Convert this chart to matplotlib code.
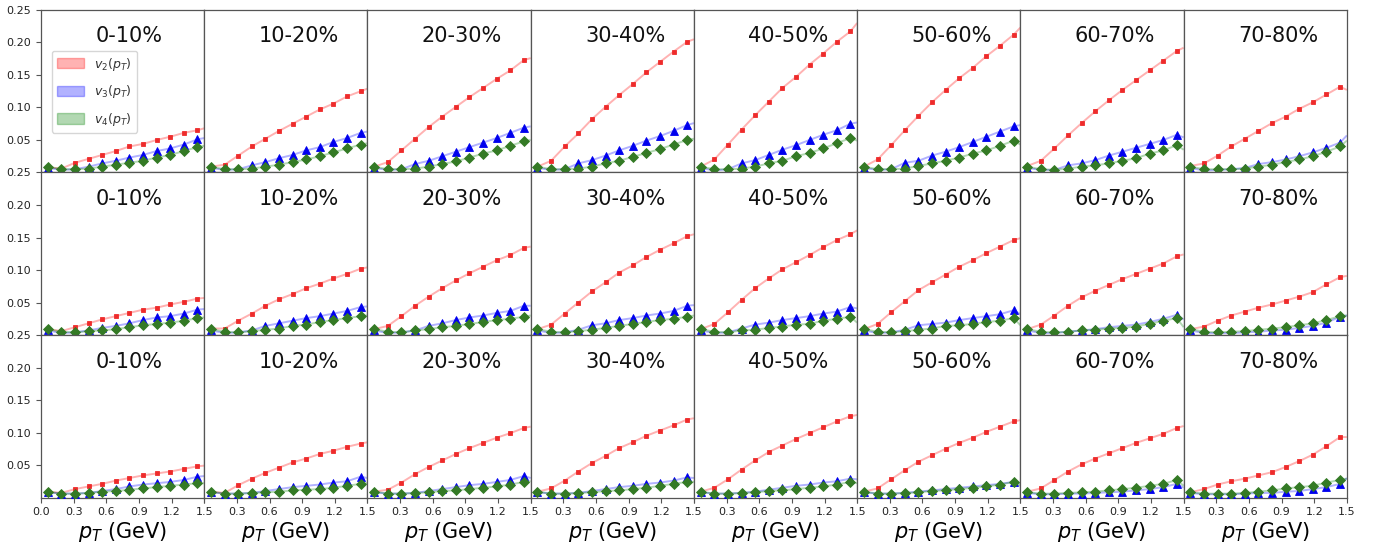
import matplotlib
matplotlib.use("Agg")
import matplotlib.pyplot as plt
import matplotlib.patches as mpatches

# transverse-momentum bin centres (GeV) and the upper edge of the range
pt_bins = [0.0625, 0.1875, 0.3125, 0.4375, 0.5625, 0.6875,
           0.8125, 0.9375, 1.0625, 1.1875, 1.3125, 1.4375]
pt_edge = 1.5

centralities = ["0-10%", "10-20%", "20-30%", "30-40%",
                "40-50%", "50-60%", "60-70%", "70-80%"]

x_ticks = [0.0, 0.3, 0.6, 0.9, 1.2, 1.5]
y_ticks = [0.05, 0.10, 0.15, 0.20, 0.25]

# ---------------- row 1 ----------------
v2_r1 = [
    [0.008, 0.006, 0.015, 0.021, 0.027, 0.033, 0.040, 0.044, 0.050, 0.055, 0.061, 0.065],
    [0.009, 0.012, 0.026, 0.040, 0.052, 0.064, 0.075, 0.086, 0.097, 0.106, 0.117, 0.125],
    [0.009, 0.016, 0.034, 0.052, 0.070, 0.086, 0.101, 0.116, 0.130, 0.144, 0.157, 0.173],
    [0.009, 0.018, 0.040, 0.060, 0.082, 0.101, 0.119, 0.136, 0.154, 0.170, 0.186, 0.201],
    [0.009, 0.020, 0.043, 0.066, 0.088, 0.109, 0.130, 0.147, 0.166, 0.183, 0.201, 0.217],
    [0.009, 0.020, 0.042, 0.065, 0.087, 0.108, 0.127, 0.145, 0.161, 0.179, 0.195, 0.212],
    [0.010, 0.018, 0.037, 0.057, 0.076, 0.094, 0.111, 0.127, 0.142, 0.157, 0.172, 0.187],
    [0.010, 0.014, 0.026, 0.040, 0.052, 0.064, 0.076, 0.086, 0.098, 0.108, 0.120, 0.132],
]
v3_r1 = [
    [0.007, 0.004, 0.005, 0.009, 0.014, 0.018, 0.023, 0.027, 0.033, 0.037, 0.043, 0.051],
    [0.007, 0.004, 0.005, 0.011, 0.016, 0.022, 0.027, 0.034, 0.039, 0.047, 0.053, 0.061],
    [0.007, 0.004, 0.005, 0.013, 0.018, 0.025, 0.032, 0.039, 0.046, 0.053, 0.061, 0.069],
    [0.007, 0.004, 0.005, 0.014, 0.019, 0.026, 0.034, 0.041, 0.049, 0.056, 0.064, 0.073],
    [0.007, 0.003, 0.005, 0.014, 0.019, 0.027, 0.035, 0.042, 0.050, 0.058, 0.065, 0.075],
    [0.007, 0.004, 0.005, 0.015, 0.018, 0.026, 0.032, 0.039, 0.047, 0.055, 0.063, 0.071],
    [0.007, 0.004, 0.004, 0.011, 0.014, 0.019, 0.026, 0.032, 0.038, 0.044, 0.050, 0.058],
    [0.007, 0.003, 0.004, 0.005, 0.007, 0.013, 0.016, 0.020, 0.025, 0.031, 0.038, 0.046],
]
v4_r1 = [
    [0.009, 0.005, 0.005, 0.006, 0.009, 0.012, 0.015, 0.018, 0.023, 0.027, 0.033, 0.039],
    [0.009, 0.005, 0.005, 0.006, 0.009, 0.012, 0.016, 0.020, 0.025, 0.031, 0.037, 0.043],
    [0.009, 0.005, 0.005, 0.006, 0.009, 0.013, 0.017, 0.023, 0.029, 0.034, 0.041, 0.048],
    [0.009, 0.005, 0.005, 0.006, 0.009, 0.014, 0.018, 0.024, 0.030, 0.036, 0.043, 0.050],
    [0.009, 0.005, 0.005, 0.006, 0.009, 0.014, 0.018, 0.025, 0.030, 0.037, 0.045, 0.053],
    [0.009, 0.005, 0.005, 0.006, 0.010, 0.014, 0.018, 0.023, 0.029, 0.034, 0.041, 0.049],
    [0.009, 0.005, 0.004, 0.006, 0.009, 0.011, 0.014, 0.018, 0.022, 0.029, 0.034, 0.042],
    [0.009, 0.005, 0.005, 0.005, 0.006, 0.009, 0.012, 0.016, 0.020, 0.025, 0.032, 0.040],
]
v2_end_r1 = [0.068, 0.129, 0.176, 0.205, 0.230, 0.223, 0.192, 0.127]
v3_end_r1 = [0.053, 0.063, 0.071, 0.076, 0.077, 0.073, 0.054, 0.057]
v4_end_r1 = [0.041, 0.045, 0.050, 0.052, 0.049, 0.043, 0.035, 0.049]

# ---------------- row 2 ----------------
v2_r2 = [
    [0.009, 0.006, 0.012, 0.018, 0.024, 0.029, 0.034, 0.039, 0.042, 0.047, 0.051, 0.056],
    [0.010, 0.010, 0.022, 0.033, 0.045, 0.055, 0.063, 0.072, 0.079, 0.087, 0.094, 0.102],
    [0.009, 0.014, 0.029, 0.045, 0.059, 0.072, 0.084, 0.095, 0.105, 0.115, 0.123, 0.134],
    [0.009, 0.016, 0.033, 0.050, 0.067, 0.081, 0.096, 0.107, 0.120, 0.131, 0.141, 0.152],
    [0.009, 0.017, 0.035, 0.054, 0.072, 0.087, 0.101, 0.112, 0.123, 0.135, 0.146, 0.155],
    [0.009, 0.017, 0.035, 0.052, 0.069, 0.081, 0.093, 0.105, 0.115, 0.126, 0.136, 0.146],
    [0.009, 0.016, 0.030, 0.045, 0.058, 0.068, 0.077, 0.086, 0.094, 0.102, 0.110, 0.121],
    [0.009, 0.013, 0.022, 0.030, 0.036, 0.042, 0.047, 0.053, 0.059, 0.066, 0.078, 0.089],
]
v3_r2 = [
    [0.007, 0.003, 0.004, 0.007, 0.011, 0.014, 0.018, 0.023, 0.027, 0.029, 0.033, 0.039],
    [0.007, 0.003, 0.004, 0.007, 0.014, 0.018, 0.022, 0.026, 0.029, 0.033, 0.037, 0.043],
    [0.007, 0.003, 0.004, 0.007, 0.014, 0.018, 0.023, 0.027, 0.030, 0.034, 0.037, 0.045],
    [0.007, 0.003, 0.004, 0.008, 0.015, 0.018, 0.023, 0.026, 0.030, 0.033, 0.037, 0.045],
    [0.007, 0.003, 0.004, 0.010, 0.016, 0.019, 0.023, 0.026, 0.029, 0.033, 0.036, 0.043],
    [0.007, 0.003, 0.004, 0.008, 0.015, 0.017, 0.019, 0.023, 0.026, 0.029, 0.032, 0.038],
    [0.007, 0.003, 0.003, 0.005, 0.007, 0.009, 0.012, 0.014, 0.016, 0.020, 0.025, 0.031],
    [0.007, 0.003, 0.003, 0.003, 0.004, 0.005, 0.007, 0.008, 0.011, 0.014, 0.019, 0.028],
]
v4_r2 = [
    [0.009, 0.005, 0.004, 0.006, 0.007, 0.009, 0.012, 0.015, 0.017, 0.019, 0.022, 0.026],
    [0.009, 0.005, 0.004, 0.006, 0.008, 0.010, 0.014, 0.016, 0.020, 0.023, 0.026, 0.029],
    [0.009, 0.005, 0.004, 0.007, 0.009, 0.012, 0.014, 0.017, 0.020, 0.023, 0.025, 0.028],
    [0.009, 0.005, 0.004, 0.006, 0.008, 0.011, 0.014, 0.017, 0.020, 0.023, 0.025, 0.028],
    [0.009, 0.005, 0.004, 0.007, 0.008, 0.011, 0.013, 0.016, 0.017, 0.022, 0.025, 0.028],
    [0.009, 0.005, 0.004, 0.006, 0.008, 0.010, 0.014, 0.015, 0.017, 0.020, 0.022, 0.026],
    [0.009, 0.005, 0.004, 0.005, 0.007, 0.008, 0.010, 0.011, 0.013, 0.017, 0.022, 0.026],
    [0.009, 0.005, 0.004, 0.005, 0.006, 0.008, 0.010, 0.012, 0.015, 0.018, 0.023, 0.029],
]
v2_end_r2 = [0.057, 0.104, 0.136, 0.155, 0.161, 0.149, 0.124, 0.091]
v3_end_r2 = [0.040, 0.044, 0.045, 0.046, 0.041, 0.032, 0.024, 0.030]
v4_end_r2 = [0.027, 0.030, 0.030, 0.030, 0.019, 0.015, 0.012, 0.030]

# ---------------- row 3 ----------------
v2_r3 = [
    [0.009, 0.007, 0.013, 0.017, 0.021, 0.026, 0.030, 0.034, 0.037, 0.040, 0.044, 0.048],
    [0.009, 0.007, 0.019, 0.029, 0.038, 0.046, 0.054, 0.060, 0.067, 0.072, 0.078, 0.083],
    [0.009, 0.012, 0.023, 0.036, 0.047, 0.057, 0.067, 0.076, 0.084, 0.092, 0.099, 0.107],
    [0.009, 0.014, 0.026, 0.040, 0.053, 0.064, 0.076, 0.085, 0.095, 0.103, 0.111, 0.120],
    [0.009, 0.015, 0.028, 0.043, 0.057, 0.070, 0.080, 0.090, 0.099, 0.108, 0.117, 0.125],
    [0.009, 0.014, 0.028, 0.042, 0.055, 0.065, 0.075, 0.084, 0.092, 0.101, 0.109, 0.117],
    [0.009, 0.014, 0.027, 0.040, 0.051, 0.060, 0.068, 0.076, 0.084, 0.091, 0.098, 0.107],
    [0.008, 0.013, 0.020, 0.025, 0.029, 0.034, 0.039, 0.047, 0.056, 0.066, 0.079, 0.093],
]
v3_r3 = [
    [0.008, 0.006, 0.006, 0.007, 0.010, 0.013, 0.017, 0.020, 0.022, 0.024, 0.027, 0.032],
    [0.008, 0.006, 0.006, 0.007, 0.010, 0.013, 0.016, 0.018, 0.020, 0.023, 0.025, 0.032],
    [0.008, 0.006, 0.006, 0.007, 0.010, 0.013, 0.016, 0.019, 0.021, 0.024, 0.027, 0.033],
    [0.008, 0.006, 0.006, 0.007, 0.010, 0.013, 0.016, 0.018, 0.021, 0.023, 0.026, 0.031],
    [0.008, 0.006, 0.006, 0.007, 0.009, 0.012, 0.015, 0.018, 0.020, 0.023, 0.025, 0.029],
    [0.008, 0.006, 0.006, 0.007, 0.009, 0.011, 0.013, 0.015, 0.017, 0.019, 0.021, 0.024],
    [0.007, 0.005, 0.005, 0.006, 0.006, 0.007, 0.008, 0.009, 0.011, 0.013, 0.016, 0.021],
    [0.007, 0.005, 0.005, 0.005, 0.006, 0.007, 0.007, 0.009, 0.010, 0.013, 0.016, 0.021],
]
v4_r3 = [
    [0.009, 0.006, 0.006, 0.007, 0.009, 0.010, 0.012, 0.014, 0.016, 0.018, 0.020, 0.022],
    [0.009, 0.006, 0.006, 0.007, 0.008, 0.009, 0.011, 0.012, 0.013, 0.015, 0.018, 0.021],
    [0.009, 0.006, 0.006, 0.007, 0.008, 0.010, 0.011, 0.013, 0.015, 0.017, 0.020, 0.024],
    [0.009, 0.006, 0.006, 0.007, 0.008, 0.010, 0.011, 0.013, 0.015, 0.018, 0.021, 0.024],
    [0.009, 0.006, 0.006, 0.007, 0.008, 0.010, 0.011, 0.013, 0.015, 0.017, 0.020, 0.024],
    [0.009, 0.006, 0.006, 0.007, 0.008, 0.010, 0.011, 0.013, 0.015, 0.017, 0.020, 0.024],
    [0.008, 0.006, 0.006, 0.007, 0.008, 0.009, 0.011, 0.013, 0.015, 0.018, 0.021, 0.027],
    [0.008, 0.006, 0.006, 0.006, 0.007, 0.009, 0.011, 0.014, 0.016, 0.018, 0.023, 0.027],
]
v2_end_r3 = [0.049, 0.085, 0.109, 0.122, 0.127, 0.119, 0.110, 0.093]
v3_end_r3 = [0.033, 0.030, 0.030, 0.030, 0.028, 0.022, 0.015, 0.030]
v4_end_r3 = [0.022, 0.022, 0.025, 0.024, 0.022, 0.018, 0.018, 0.029]

rows = [
    (v2_r1, v3_r1, v4_r1, v2_end_r1, v3_end_r1, v4_end_r1),
    (v2_r2, v3_r2, v4_r2, v2_end_r2, v3_end_r2, v4_end_r2),
    (v2_r3, v3_r3, v4_r3, v2_end_r3, v3_end_r3, v4_end_r3),
]

line_colors = ["red", "blue", "green"]
marker_styles = [
    dict(marker="s", ms=3.2, color="#ee2b2b"),
    dict(marker="^", ms=5.8, color="#0000ee"),
    dict(marker="D", ms=5.2, color="#347a25"),
]
frame_color = "#555555"

fig, axes = plt.subplots(3, 8, figsize=(13.8, 5.46), dpi=100)
fig.subplots_adjust(left=0.0297, right=0.976, top=0.9817, bottom=0.0888,
                    wspace=0.0, hspace=0.0)

line_x = pt_bins + [pt_edge]

for r, (v2s, v3s, v4s, e2, e3, e4) in enumerate(rows):
    for c in range(8):
        ax = axes[r, c]
        series = [(v2s[c], e2[c]), (v3s[c], e3[c]), (v4s[c], e4[c])]
        for (vals, end), col in zip(series, line_colors):
            ax.plot(line_x, vals + [end], color=col, alpha=0.3, lw=1.4,
                    zorder=1, solid_capstyle="butt")
        for (vals, _), style in zip(series, marker_styles):
            ax.plot(pt_bins, vals, linestyle="none", markeredgewidth=0.6,
                    zorder=3, **style)

        ax.set_xlim(0.0, 1.5)
        ax.set_ylim(0.0, 0.25)
        ax.set_xticks(x_ticks)
        ax.set_yticks(y_ticks)
        ax.text(0.5, 0.2, centralities[c], fontsize=15, color="#111111")

        for sp in ax.spines.values():
            sp.set_color(frame_color)
            sp.set_linewidth(0.9)
        ax.tick_params(colors=frame_color, labelcolor="#222222",
                       labelsize=8, length=3.5, width=0.8)

        if c == 0:
            ax.set_yticklabels([f"{v:.2f}" for v in y_ticks])
        else:
            ax.tick_params(left=False, labelleft=False)

        if r == 2:
            ax.set_xticklabels(["" if (c > 0 and v == 0.0) else f"{v:.1f}"
                                for v in x_ticks])
            ax.set_xlabel(r"$p_T$ (GeV)", fontsize=15, labelpad=2)
        else:
            ax.tick_params(bottom=False, labelbottom=False)

handles = [
    mpatches.Patch(facecolor="red", alpha=0.3, edgecolor="red", label=r"$v_2(p_T)$"),
    mpatches.Patch(facecolor="blue", alpha=0.3, edgecolor="blue", label=r"$v_3(p_T)$"),
    mpatches.Patch(facecolor="green", alpha=0.3, edgecolor="green", label=r"$v_4(p_T)$"),
]
leg = axes[0, 0].legend(handles=handles, loc="upper left",
                        bbox_to_anchor=(0.067, 0.75), borderaxespad=0.0,
                        fontsize=9, handlelength=2.2, handleheight=0.9,
                        labelspacing=0.85, framealpha=0.8)
for t in leg.get_texts():
    t.set_color("#333333")

fig.savefig("out.png", dpi=100)
